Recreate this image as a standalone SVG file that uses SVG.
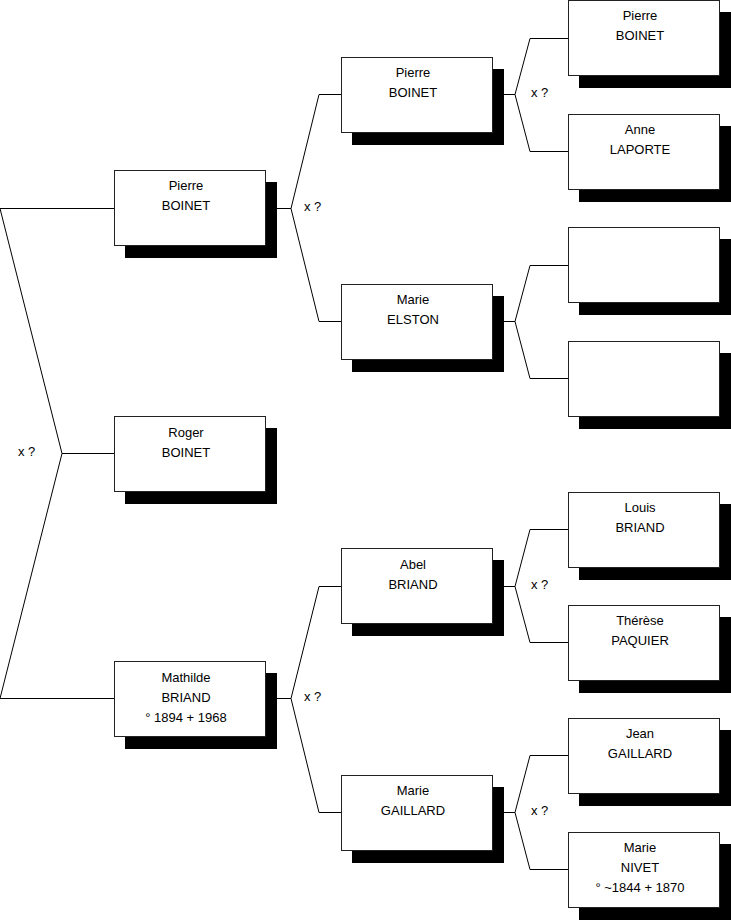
<svg xmlns="http://www.w3.org/2000/svg" width="731" height="920" viewBox="0 0 731 920">
<style>
.sh{fill:#000}
.bx{fill:#fff;stroke:#222;stroke-width:1}
text{font-family:"Liberation Sans",Arial,sans-serif;font-size:13px;fill:#000}
.t{text-anchor:middle}
.c{fill:none;stroke:#000;stroke-width:1}
</style>
<defs>
<g id="card">
<rect class="sh" x="11" y="12" width="152" height="76"/>
<rect class="bx" x="0.5" y="0.5" width="151" height="75"/>
</g>
</defs>
<g id="connectors">
<path class="c" d="M0,208.5H114.5M0,208.5L62,453.5M0,698.5L62,453.5M62,453.5H114.5M0,698.5H114.5"/>
<path class="c" d="M265,208.5H291L319,94.5H341M291,208.5L319,321.5H341"/>
<path class="c" d="M265,698.5H291L319,586.5H341M291,698.5L319,812.5H341"/>
<path class="c" d="M492,94.5H515L530,38.5H568M515,94.5L530,151.5H568"/>
<path class="c" d="M492,321.5H515L530,265.5H568M515,321.5L530,378.5H568"/>
<path class="c" d="M492,586.5H515L530,529.5H568M515,586.5L530,642.5H568"/>
<path class="c" d="M492,812.5H515L530,755.5H568M515,812.5L530,869.5H568"/>
<text x="18" y="456">x ?</text>
<text x="304" y="211">x ?</text>
<text x="304" y="701">x ?</text>
<text x="531" y="97">x ?</text>
<text x="531" y="589">x ?</text>
<text x="531" y="815">x ?</text>
</g>
<g id="n1" transform="translate(114,170)"><use href="#card"/><text class="t" x="72" y="20">Pierre</text><text class="t" x="72" y="40">BOINET</text></g>
<g id="n2" transform="translate(114,416)"><use href="#card"/><text class="t" x="72" y="21">Roger</text><text class="t" x="72" y="41">BOINET</text></g>
<g id="n3" transform="translate(114,661)"><use href="#card"/><text class="t" x="72" y="21">Mathilde</text><text class="t" x="72" y="41">BRIAND</text><text class="t" x="72" y="61">° 1894 + 1968</text></g>
<g id="n4" transform="translate(341,57)"><use href="#card"/><text class="t" x="72" y="20">Pierre</text><text class="t" x="72" y="40">BOINET</text></g>
<g id="n5" transform="translate(341,284)"><use href="#card"/><text class="t" x="72" y="20">Marie</text><text class="t" x="72" y="40">ELSTON</text></g>
<g id="n6" transform="translate(341,548)"><use href="#card"/><text class="t" x="72" y="21">Abel</text><text class="t" x="72" y="41">BRIAND</text></g>
<g id="n7" transform="translate(341,775)"><use href="#card"/><text class="t" x="72" y="20">Marie</text><text class="t" x="72" y="40">GAILLARD</text></g>
<g id="n8" transform="translate(568,0)"><use href="#card"/><text class="t" x="72" y="20">Pierre</text><text class="t" x="72" y="40">BOINET</text></g>
<g id="n9" transform="translate(568,114)"><use href="#card"/><text class="t" x="72" y="20">Anne</text><text class="t" x="72" y="40">LAPORTE</text></g>
<g id="n10" transform="translate(568,227)"><use href="#card"/></g>
<g id="n11" transform="translate(568,341)"><use href="#card"/></g>
<g id="n12" transform="translate(568,492)"><use href="#card"/><text class="t" x="72" y="20">Louis</text><text class="t" x="72" y="40">BRIAND</text></g>
<g id="n13" transform="translate(568,605)"><use href="#card"/><text class="t" x="72" y="20">Thérèse</text><text class="t" x="72" y="40">PAQUIER</text></g>
<g id="n14" transform="translate(568,718)"><use href="#card"/><text class="t" x="72" y="20">Jean</text><text class="t" x="72" y="40">GAILLARD</text></g>
<g id="n15" transform="translate(568,832)"><use href="#card"/><text class="t" x="72" y="20">Marie</text><text class="t" x="72" y="40">NIVET</text><text class="t" x="72" y="60">° ~1844 + 1870</text></g>
</svg>
